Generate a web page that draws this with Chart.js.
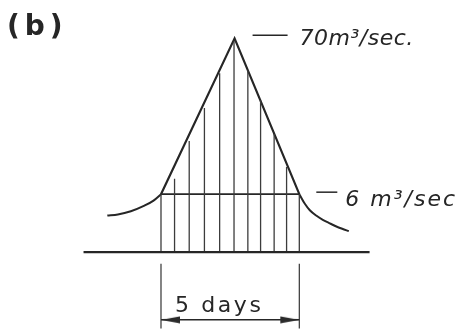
<!DOCTYPE html>
<html>
<head>
<meta charset="utf-8">
<script src="https://cdn.jsdelivr.net/npm/chart.js@4/dist/chart.umd.min.js"></script>
<style>
html,body{margin:0;padding:0;background:#fff;}
#wrap{width:460px;height:334px;position:relative;}
</style>
</head>
<body>
<div id="wrap"><canvas id="c" width="460" height="334"></canvas></div>
<script>
// ---- data (x in days from start of the 5-day flood; y in sketch height units, peak = 100) ----
const panelLabel = '(b)';
const peakLabel = '70m³/sec.';
const baseLabel = '6 m³/sec';
const durationLabel = '5 days';

const baseLineDays = [-2.80, 7.54];
const baseLineQ = [0, 0];

const leftTailDays = [-1.94, -1.56, -1.09, -0.62, -0.27, 0];
const leftTailQ    = [17.1, 17.6, 19.1, 21.6, 24.1, 27.1];

const limbDays = [0, 2.66, 5];
const limbQ    = [27.1, 100, 27.1];

const rightTailDays = [5, 5.20, 5.38, 5.61, 5.85, 6.08, 6.32, 6.55, 6.79];
const rightTailQ    = [27.1, 22.6, 19.6, 17.1, 15.1, 13.6, 12.1, 10.9, 9.8];

const sixLineDays = [0, 5];
const sixLineQ = [27.1, 27.1];

const hatchDays = [0, 0.49, 1.02, 1.57, 2.12, 2.64, 3.14, 3.60, 4.09, 4.54, 5];
const hatchQ    = [27.1, 34.3, 52.0, 67.4, 83.7, 98.6, 85.1, 71.0, 55.2, 39.8, 27.1];

const durationDays = [0, 5];
const dimTopQ = -5.4;
const dimBottomQ = -36;
const arrowQ = -31.7;

// ---- helpers ----
const pts = (xs, ys) => xs.map((x, i) => ({x, y: ys[i]}));
function gapped(xs, y0s, y1s) {
  const out = [];
  xs.forEach((x, i) => { out.push({x, y: y0s[i]}, {x, y: y1s[i]}, {x, y: null}); });
  return out;
}
function arrowHead(dir) {
  const c = document.createElement('canvas');
  c.width = 40; c.height = 8;
  const g = c.getContext('2d');
  g.fillStyle = '#2b2b2b';
  g.beginPath();
  if (dir > 0) { g.moveTo(20, 4); g.lineTo(1, 0.5); g.lineTo(1, 7.5); }
  else { g.moveTo(20, 4); g.lineTo(39, 0.5); g.lineTo(39, 7.5); }
  g.closePath(); g.fill();
  return c;
}
const ink = '#262626';
const line = (data, extra) => Object.assign({
  data, showLine: true, borderColor: ink, borderWidth: 2, pointRadius: 0,
  tension: 0, spanGaps: false, fill: false
}, extra || {});

function spaced(ctx, text, x, y, gap) {
  let px = x;
  for (const ch of text) { ctx.fillText(ch, px, y); px += ctx.measureText(ch).width + gap; }
}

const labelPlugin = {
  id: 'labels',
  afterDatasetsDraw(chart) {
    const {ctx, scales: {x, y}} = chart;
    ctx.save();
    ctx.fillStyle = ink; ctx.strokeStyle = ink;
    ctx.textBaseline = 'alphabetic';
    ctx.textAlign = 'left';
    // panel label
    ctx.font = 'bold 28px "DejaVu Sans", sans-serif';
    spaced(ctx, panelLabel, 7, 35, 5);
    // peak label
    const pkX = x.getPixelForValue(limbDays[1]), pkY = y.getPixelForValue(limbQ[1]);
    ctx.lineWidth = 1.5;
    ctx.beginPath(); ctx.moveTo(pkX + 18, pkY - 3); ctx.lineTo(pkX + 53, pkY - 3); ctx.stroke();
    ctx.font = 'italic 22px "DejaVu Sans", sans-serif';
    spaced(ctx, peakLabel, pkX + 65, pkY + 7, 0.5);
    // base flow label
    const bX = x.getPixelForValue(sixLineDays[1]), bY = y.getPixelForValue(sixLineQ[1]);
    ctx.beginPath(); ctx.moveTo(bX + 17, bY - 2); ctx.lineTo(bX + 38, bY - 2); ctx.stroke();
    spaced(ctx, baseLabel, bX + 46, bY + 12, 2);
    // duration label
    const dX = x.getPixelForValue(durationDays[0]), dY = y.getPixelForValue(arrowQ);
    ctx.font = '22px "DejaVu Sans", sans-serif';
    spaced(ctx, durationLabel, dX + 14, dY - 8, 2.6);
    ctx.restore();
  }
};

new Chart(document.getElementById('c'), {
  type: 'scatter',
  data: {
    datasets: [
      line(pts(baseLineDays, baseLineQ), {borderWidth: 2.4}),
      line(gapped(hatchDays, hatchDays.map(() => 0), hatchQ), {borderWidth: 1.3, borderColor: '#3c3c3c'}),
      line(gapped(durationDays, durationDays.map(() => dimTopQ), durationDays.map(() => dimBottomQ)), {borderWidth: 1.2, borderColor: '#333'}),
      line(pts(sixLineDays, sixLineQ), {borderWidth: 1.6}),
      line(pts(leftTailDays, leftTailQ), {cubicInterpolationMode: 'monotone'}),
      line(pts(limbDays, limbQ), {borderWidth: 2.2}),
      line(pts(rightTailDays, rightTailQ), {cubicInterpolationMode: 'monotone'}),
      line(pts(durationDays, [arrowQ, arrowQ]), {
        borderWidth: 1.5, pointRadius: 4,
        pointStyle: [arrowHead(-1), arrowHead(1)]
      })
    ]
  },
  options: {
    responsive: false,
    animation: false,
    events: [],
    layout: {padding: 0},
    plugins: {legend: {display: false}, tooltip: {enabled: false}, title: {display: false}},
    scales: {
      x: {type: 'linear', display: false, min: -5.621, max: 10.610},
      y: {type: 'linear', display: false, min: -35.75, max: 115.38}
    }
  },
  plugins: [labelPlugin]
});
</script>
</body>
</html>
